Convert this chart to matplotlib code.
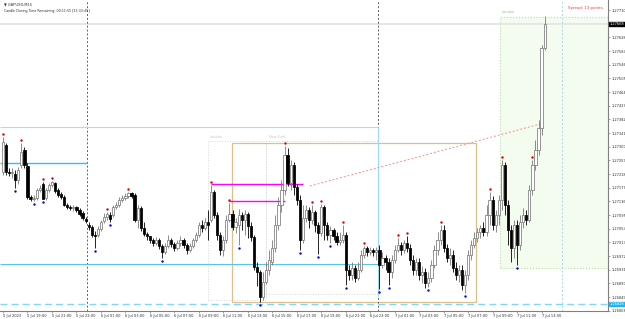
import numpy as np
import matplotlib.pyplot as plt
from matplotlib.patches import Rectangle

# GBPUSD M15 candles, 5 Jul 17:00 .. 7 Jul 13:15
opens = [1.27224, 1.27305, 1.27224, 1.27221, 1.27218, 1.27200, 1.27245, 1.27290, 1.27242, 1.27149,
         1.27143, 1.27146, 1.27170, 1.27188, 1.27146, 1.27170, 1.27185, 1.27191, 1.27170, 1.27158,
         1.27149, 1.27125, 1.27119, 1.27116, 1.27119, 1.27110, 1.27101, 1.27083, 1.27065, 1.27059,
         1.27035, 1.27035, 1.27053, 1.27077, 1.27089, 1.27095, 1.27095, 1.27119, 1.27125, 1.27140,
         1.27146, 1.27152, 1.27161, 1.27155, 1.27080, 1.27116, 1.27056, 1.27038, 1.27032, 1.27020,
         1.27011, 1.27020, 1.27002, 1.26984, 1.27002, 1.27020, 1.27008, 1.26996, 1.27011, 1.27020,
         1.27005, 1.26990, 1.27002, 1.27020, 1.27035, 1.27065, 1.27056, 1.27074, 1.27080, 1.27164,
         1.27095, 1.27035, 1.26990, 1.27020, 1.27080, 1.27098, 1.27059, 1.27065, 1.27095, 1.27080,
         1.27098, 1.27062, 1.27029, 1.26939, 1.26924, 1.26849, 1.26894, 1.26930, 1.26954, 1.26996,
         1.27065, 1.27125, 1.27170, 1.27275, 1.27191, 1.27245, 1.27179, 1.27140, 1.27020, 1.27086,
         1.27110, 1.27080, 1.27104, 1.27065, 1.27041, 1.27119, 1.27065, 1.27035, 1.27050, 1.27032,
         1.27014, 1.27020, 1.27035, 1.26930, 1.26915, 1.26936, 1.26906, 1.26930, 1.26975, 1.26996,
         1.26984, 1.26990, 1.26984, 1.26990, 1.26945, 1.26966, 1.26954, 1.26924, 1.26960, 1.26990,
         1.27005, 1.26990, 1.27011, 1.26996, 1.26960, 1.26930, 1.26954, 1.26915, 1.26924, 1.26891,
         1.26906, 1.26945, 1.26990, 1.27020, 1.27050, 1.26996, 1.26966, 1.26975, 1.26936, 1.26915,
         1.26930, 1.26885, 1.26915, 1.26975, 1.27005, 1.27026, 1.27044, 1.27056, 1.27044, 1.27095,
         1.27140, 1.27065, 1.27095, 1.27140, 1.27245, 1.27125, 1.27050, 1.26996, 1.27065, 1.27005,
         1.27074, 1.27095, 1.27080, 1.27170, 1.27245, 1.27290, 1.27356, 1.27596]
highs = [1.27329, 1.27311, 1.27236, 1.27236, 1.27230, 1.27239, 1.27311, 1.27299, 1.27251, 1.27155,
         1.27155, 1.27176, 1.27185, 1.27194, 1.27176, 1.27191, 1.27197, 1.27194, 1.27176, 1.27164,
         1.27155, 1.27131, 1.27125, 1.27125, 1.27122, 1.27116, 1.27107, 1.27089, 1.27074, 1.27065,
         1.27047, 1.27062, 1.27080, 1.27101, 1.27104, 1.27104, 1.27125, 1.27134, 1.27149, 1.27155,
         1.27161, 1.27164, 1.27164, 1.27161, 1.27125, 1.27122, 1.27074, 1.27044, 1.27032, 1.27026,
         1.27029, 1.27026, 1.27008, 1.27011, 1.27035, 1.27026, 1.27014, 1.27020, 1.27032, 1.27026,
         1.27011, 1.27011, 1.27026, 1.27044, 1.27074, 1.27080, 1.27086, 1.27110, 1.27185, 1.27170,
         1.27104, 1.27044, 1.27032, 1.27095, 1.27131, 1.27110, 1.27086, 1.27113, 1.27104, 1.27110,
         1.27104, 1.27074, 1.27035, 1.26954, 1.26930, 1.26924, 1.26954, 1.26990, 1.27020, 1.27095,
         1.27149, 1.27200, 1.27302, 1.27296, 1.27260, 1.27254, 1.27188, 1.27155, 1.27125, 1.27125,
         1.27119, 1.27125, 1.27110, 1.27074, 1.27128, 1.27125, 1.27074, 1.27062, 1.27056, 1.27044,
         1.27044, 1.27065, 1.27044, 1.26945, 1.26954, 1.26945, 1.26954, 1.26990, 1.27002, 1.27002,
         1.26999, 1.26996, 1.26999, 1.27005, 1.26984, 1.26975, 1.26966, 1.26975, 1.27005, 1.27026,
         1.27014, 1.27020, 1.27032, 1.27008, 1.26975, 1.26966, 1.26966, 1.26942, 1.26936, 1.26924,
         1.26960, 1.27005, 1.27044, 1.27065, 1.27065, 1.27008, 1.26996, 1.26990, 1.26954, 1.26945,
         1.26945, 1.26930, 1.26990, 1.27020, 1.27044, 1.27056, 1.27065, 1.27074, 1.27125, 1.27164,
         1.27152, 1.27110, 1.27155, 1.27260, 1.27254, 1.27140, 1.27065, 1.27080, 1.27080, 1.27095,
         1.27116, 1.27110, 1.27185, 1.27260, 1.27320, 1.27380, 1.27605, 1.27692]
lows = [1.27215, 1.27215, 1.27212, 1.27206, 1.27176, 1.27188, 1.27236, 1.27236, 1.27143, 1.27137,
        1.27137, 1.27140, 1.27164, 1.27143, 1.27140, 1.27164, 1.27179, 1.27161, 1.27149, 1.27143,
        1.27122, 1.27113, 1.27110, 1.27107, 1.27104, 1.27092, 1.27080, 1.27071, 1.27050, 1.27029,
        1.26996, 1.27029, 1.27047, 1.27071, 1.27080, 1.27074, 1.27089, 1.27113, 1.27119, 1.27134,
        1.27140, 1.27146, 1.27146, 1.27074, 1.27056, 1.27047, 1.27032, 1.27020, 1.27011, 1.27002,
        1.27005, 1.26993, 1.26966, 1.26978, 1.26996, 1.26999, 1.26987, 1.26990, 1.27002, 1.26996,
        1.26978, 1.26984, 1.26996, 1.27014, 1.27029, 1.27044, 1.27050, 1.27020, 1.27074, 1.27086,
        1.27020, 1.26975, 1.26972, 1.27011, 1.27074, 1.27050, 1.27041, 1.27005, 1.27050, 1.27035,
        1.27026, 1.27017, 1.26930, 1.26882, 1.26834, 1.26840, 1.26888, 1.26915, 1.26945, 1.26984,
        1.27050, 1.27104, 1.27155, 1.27182, 1.27170, 1.27155, 1.27125, 1.26990, 1.27011, 1.27074,
        1.27056, 1.27068, 1.27044, 1.26978, 1.27032, 1.27020, 1.27020, 1.27011, 1.27020, 1.27005,
        1.27005, 1.27011, 1.26885, 1.26900, 1.26900, 1.26894, 1.26900, 1.26924, 1.26966, 1.26972,
        1.26975, 1.26972, 1.26960, 1.26873, 1.26936, 1.26930, 1.26885, 1.26906, 1.26951, 1.26984,
        1.26975, 1.26981, 1.26984, 1.26945, 1.26915, 1.26915, 1.26900, 1.26891, 1.26876, 1.26879,
        1.26894, 1.26936, 1.26975, 1.27005, 1.26984, 1.26954, 1.26945, 1.26924, 1.26900, 1.26894,
        1.26870, 1.26861, 1.26900, 1.26960, 1.26996, 1.27014, 1.27026, 1.27032, 1.27032, 1.27065,
        1.27050, 1.27044, 1.27065, 1.27110, 1.27095, 1.27005, 1.26954, 1.26966, 1.26945, 1.26990,
        1.27056, 1.27065, 1.27074, 1.27155, 1.27230, 1.27275, 1.27335, 1.27590]
closes = [1.27314, 1.27224, 1.27221, 1.27224, 1.27200, 1.27230, 1.27284, 1.27245, 1.27149, 1.27143,
          1.27146, 1.27170, 1.27176, 1.27143, 1.27170, 1.27185, 1.27194, 1.27167, 1.27155, 1.27149,
          1.27125, 1.27119, 1.27116, 1.27119, 1.27110, 1.27098, 1.27086, 1.27077, 1.27059, 1.27035,
          1.27032, 1.27053, 1.27074, 1.27089, 1.27098, 1.27083, 1.27119, 1.27125, 1.27140, 1.27146,
          1.27152, 1.27161, 1.27152, 1.27080, 1.27116, 1.27056, 1.27038, 1.27032, 1.27020, 1.27011,
          1.27020, 1.27002, 1.26984, 1.27002, 1.27020, 1.27008, 1.26996, 1.27011, 1.27020, 1.27005,
          1.26990, 1.27002, 1.27020, 1.27035, 1.27065, 1.27056, 1.27074, 1.27065, 1.27164, 1.27095,
          1.27035, 1.26990, 1.27020, 1.27080, 1.27098, 1.27059, 1.27074, 1.27095, 1.27080, 1.27098,
          1.27062, 1.27029, 1.26939, 1.26924, 1.26849, 1.26894, 1.26930, 1.26960, 1.26996, 1.27065,
          1.27125, 1.27170, 1.27275, 1.27191, 1.27245, 1.27179, 1.27140, 1.27020, 1.27086, 1.27110,
          1.27080, 1.27104, 1.27065, 1.27041, 1.27119, 1.27065, 1.27035, 1.27050, 1.27032, 1.27014,
          1.27020, 1.27035, 1.26930, 1.26915, 1.26936, 1.26906, 1.26930, 1.26975, 1.26996, 1.26984,
          1.26990, 1.26984, 1.26990, 1.26945, 1.26966, 1.26954, 1.26924, 1.26960, 1.26990, 1.27005,
          1.26990, 1.27011, 1.26996, 1.26960, 1.26930, 1.26954, 1.26915, 1.26924, 1.26891, 1.26906,
          1.26945, 1.26990, 1.27020, 1.27050, 1.26996, 1.26966, 1.26975, 1.26936, 1.26915, 1.26930,
          1.26885, 1.26915, 1.26975, 1.27005, 1.27026, 1.27044, 1.27056, 1.27044, 1.27095, 1.27140,
          1.27065, 1.27095, 1.27140, 1.27245, 1.27125, 1.27050, 1.26996, 1.27065, 1.27005, 1.27074,
          1.27095, 1.27080, 1.27170, 1.27245, 1.27290, 1.27356, 1.27596, 1.27668]

up_fractals = [0, 6, 13, 16, 34, 41, 68, 74, 92, 101, 104, 111, 118, 129, 132, 143, 159, 163, 173]
down_fractals = [4, 10, 13, 30, 35, 52, 77, 84, 97, 103, 107, 112, 123, 126, 139, 151, 168]

time_labels = ["5 Jul 2023", "5 Jul 19:00", "5 Jul 21:00", "5 Jul 23:00",
               "6 Jul 01:00", "6 Jul 03:00", "6 Jul 05:00", "6 Jul 07:00", "6 Jul 09:00",
               "6 Jul 11:00", "6 Jul 13:00", "6 Jul 15:00", "6 Jul 17:00", "6 Jul 19:00",
               "6 Jul 21:00", "6 Jul 23:00", "7 Jul 01:00", "7 Jul 03:00", "7 Jul 05:00",
               "7 Jul 07:00", "7 Jul 09:00", "7 Jul 11:00", "7 Jul 13:00"]
# the 1.27669 level sits under the bid box, so it is left out
price_labels = [1.27710, 1.27628, 1.27587, 1.27546, 1.27505, 1.27464, 1.27423,
                1.27382, 1.27341, 1.27300, 1.27259, 1.27218, 1.27177, 1.27136, 1.27095,
                1.27054, 1.27013, 1.26972, 1.26931, 1.26890, 1.26849, 1.26808]
bid_price = closes[-1]
level_price = 1.26828

fs = 2.6
fig = plt.figure(figsize=(6.25, 3.19), dpi=100)
ax = fig.add_axes([0, 0.025, 0.9728, 0.975])
ax.set_xlim(-0.98, 197.7)
ax.set_ylim(1.26807, 1.27740)

n = len(closes)
idx = np.arange(n)

# session boxes and levels (behind candles)
ax.add_patch(Rectangle((162.4, 1.26936), 35.3, 1.27689 - 1.26936, facecolor='#f3fcef',
                       edgecolor='#b4e3a4', linestyle=':', lw=0.8, zorder=0))
ax.text(162.9, 1.27700, "London", fontsize=2.5, color='#8cc97a')
ax.add_patch(Rectangle((67, 1.26840), 19, 1.27317 - 1.26840, fill=False,
                       edgecolor='#d6d6d6', linestyle=':', lw=0.7, zorder=0))
ax.add_patch(Rectangle((86, 1.26858), 36.6, 1.27317 - 1.26858, fill=False,
                       edgecolor='#d6d6d6', linestyle=':', lw=0.7, zorder=0))
ax.text(67.5, 1.27326, "London", fontsize=2.5, color='#c8c8c8')
ax.text(87.0, 1.27326, "New York", fontsize=2.5, color='#c8c8c8')
ax.add_patch(Rectangle((74.8, 1.26834), 79.8, 1.27311 - 1.26834, fill=False,
                       edgecolor='#dcc08a', lw=0.9, zorder=1))

ax.axhline(bid_price, color='#e6e6e6', lw=1.4, zorder=0)
ax.axvline(27.45, color='#606060', ls=(0, (2, 2)), lw=0.7, zorder=1)
ax.axvline(122.6, color='#606060', ls=(0, (2, 2)), lw=0.7, zorder=1)
ax.vlines(122.6, 1.26852, 1.27359, color='#9edcf5', lw=0.9, zorder=1)
ax.axvline(182.7, color='#a9d8f2', ls=(0, (2, 2)), lw=0.7, zorder=1)
ax.hlines(1.27359, -1, 122.6, color='#a8def5', lw=0.8, zorder=1)
ax.hlines(1.27251, -1, 27.45, color='#33bdf0', lw=1.0, zorder=1)
ax.hlines(1.26948, -1, 122.6, color='#55c5f0', lw=0.8, zorder=1)
ax.axhline(level_price, color='#80d6f5', ls=(0, (5, 3)), lw=1.0, zorder=1)
ax.hlines(1.27188, 68, 98, color='#ff00ff', lw=1.0, zorder=3)
ax.hlines(1.27137, 74, 92, color='#ff00ff', lw=1.0, zorder=3)
ax.plot([100.3, 175.5], [1.27182, 1.27368], color='#ff8c8c', ls=(0, (2, 2)), lw=0.7, zorder=3)

# candles
for i in idx:
    o, h, l, c = opens[i], highs[i], lows[i], closes[i]
    bull = c >= o
    col = '#7a7a7a' if bull else '#000000'
    ax.vlines(i, l, h, color=col, lw=0.6, zorder=4)
    bottom = min(o, c)
    height = max(abs(c - o), 0.00002)
    ax.add_patch(Rectangle((i - 0.36, bottom), 0.72, height,
                           facecolor='white' if bull else 'black',
                           edgecolor=col, lw=0.55, zorder=5))

# fractal markers
ax.scatter(up_fractals, [highs[i] + 0.00009 for i in up_fractals], s=3, color='#e00000',
           marker='o', zorder=6, linewidths=0)
ax.scatter(down_fractals, [lows[i] - 0.00009 for i in down_fractals], s=3, color='#0000e0',
           marker='o', zorder=6, linewidths=0)

# axes styling
for s in ['top', 'left']:
    ax.spines[s].set_visible(False)
for s in ['right', 'bottom']:
    ax.spines[s].set_color('#808080')
    ax.spines[s].set_linewidth(0.8)
ax.yaxis.tick_right()
ax.set_yticks(price_labels)
ax.set_yticklabels([f"{p:.5f}" for p in price_labels])
ax.set_xticks(np.arange(len(time_labels)) * 8)
ax.set_xticklabels(time_labels, ha='left')
ax.tick_params(axis='both', labelsize=fs, length=1.5, width=0.5, colors='#808080',
               labelcolor='#303030', pad=0.8)

# price boxes on the axis
ax.annotate(f"{bid_price:.5f}", xy=(1.0, bid_price), xycoords=('axes fraction', 'data'),
            xytext=(1.2, 0), textcoords='offset points', va='center', ha='left', fontsize=fs,
            color='white', bbox=dict(boxstyle='square,pad=0.12', fc='black', ec='black'),
            annotation_clip=False)
ax.annotate(f"{level_price:.5f}", xy=(1.0, level_price), xycoords=('axes fraction', 'data'),
            xytext=(1.2, 0), textcoords='offset points', va='center', ha='left', fontsize=fs,
            color='white', bbox=dict(boxstyle='square,pad=0.12', fc='#1fb6f2', ec='#1fb6f2'),
            annotation_clip=False)

fig.text(4 / 625, 1 - 4 / 319, "\u25bc GBPUSD,M15", fontsize=fs, color='#303030', va='center')
fig.text(4 / 625, 1 - 11 / 319, "Candle Closing Time Remaining: 00:11:55 [13:33:45]",
         fontsize=2.3, color='#303030', va='center')
fig.text(568 / 625, 1 - 8 / 319, "Spread: 13 points.", fontsize=2.8, color='#ff3030', va='center')

fig.savefig("out.png", dpi=100)
